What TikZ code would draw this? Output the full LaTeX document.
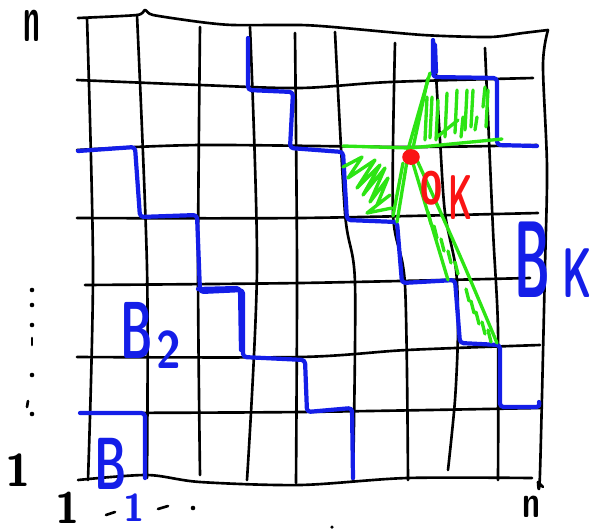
\documentclass[tikz,border=0pt]{standalone}
\usepackage{fontspec}
\usepackage{xcolor}
\definecolor{penblue}{RGB}{20,30,232}
\definecolor{pengreen}{RGB}{45,228,20}
\definecolor{penred}{RGB}{250,20,20}

\begin{document}
\begin{tikzpicture}[x=0.02cm,y=-0.02cm,
    gridline/.style={line width=1.5pt,line cap=round,line join=round},
    stair/.style={penblue,line width=2.4pt,line cap=round,line join=round,rounded corners=2pt},
    greenline/.style={pengreen,line width=1.9pt,line cap=round,line join=round},
    pen/.style={inner sep=0pt,font=\sffamily\bfseries}]
    \useasboundingbox (0,0) rectangle (592,529);

    % frame and grid
    \draw[gridline] plot[smooth,tension=0.4] coordinates {(78,18) (137,15) (145,10) (153,15) (200,22) (233,25) (300,25) (333,27) (423,35) (490,37) (523,33) (548,30)};
    \draw[gridline] plot[smooth] coordinates {(548,30) (543,65) (547,167) (545,267) (540,473) (538,482)} -- (543,487);
    \draw[gridline] plot[smooth] coordinates {(78,480) (147,475) (200,482) (300,485) (407,478) (532,478)};
    \draw[gridline] plot[smooth] coordinates {(87,18) (93,267) (88,480)};
    \draw[gridline] plot[smooth] coordinates {(137,15) (147,267) (147,478)};
    \draw[gridline] plot[smooth] coordinates {(200,27) (198,267) (200,475)};
    \draw[gridline] plot[smooth] coordinates {(250,27) (257,267) (247,480)};
    \draw[gridline] plot[smooth] coordinates {(295,33) (297,267) (296,483)};
    \draw[gridline] plot[smooth] coordinates {(335,32) (345,213) (355,283) (353,480)};
    \draw[gridline] plot[smooth] coordinates {(395,43) (393,213) (405,285) (408,480)};
    \draw[gridline] plot[smooth] coordinates {(434,42) (440,140) (445,213) (456,270) (458,330) (455,400) (448,470)};
    \draw[gridline] plot[smooth] coordinates {(485,48) (493,230) (498,330) (498,480)};
    \draw[gridline] plot[smooth] coordinates {(77,80) (200,85) (300,88) (390,82) (533,78)};
    \draw[gridline] plot[smooth] coordinates {(77,150) (200,145) (410,147) (537,145)};
    \draw[gridline] plot[smooth] coordinates {(77,218) (300,218) (538,213)};
    \draw[gridline] plot[smooth] coordinates {(85,285) (300,283) (530,278)};
    \draw[gridline] plot[smooth] coordinates {(77,357) (300,357) (407,350) (540,345)};
    \draw[gridline] plot[smooth] coordinates {(82,413) (300,412) (540,408)};

    % blue staircases
    \draw[stair] (80,413)--(145,413)--(145,478);
    \draw[stair] (78,151)--(135,147)--(140,217)--(197,215)--(200,292)--(243,290)--(243,357)--(305,360)--(307,412)--(352,408)--(353,478);
    \draw[stair] (198,289)--(240,288)--(241,350);
    \draw[stair] (248,38)--(248,90)--(293,92)--(290,148)--(343,152)--(347,220)--(397,222)--(402,283)--(455,280)--(460,343)--(500,345)--(500,407)--(540,407)--(539,402);
    \draw[stair] (433,40)--(433,77)--(497,78)--(497,145)--(537,146);
    \draw[stair] (435,45)--(436,72);

    % green wedges round the point
    \draw[greenline] (343,146)--(410,148)--(502,139);
    \draw[greenline] (407,153)--(430,73);
    \draw[greenline] (413,148)--(428,78);
    \draw[greenline] (408,155)--(397,222);
    \draw[greenline] (403,163)--(393,216);
    \draw[greenline] (412,160)--(448,280);
    \draw[greenline] (416,158) .. controls (460,255) .. (497,343);
    \foreach \x/\ya/\yb in {427/97/140,432/97/138,438/100/140,447/93/137,457/90/133,463/117/137,467/90/130,473/90/127,477/117/130,485/87/107,488/90/127}
        \draw[greenline] (\x,\ya)--(\x-2,\yb);
    \draw[greenline] (437,137)--(458,120);
    \draw[greenline] plot coordinates {(343,167) (362,157) (348,178) (375,160) (357,188) (380,165) (363,195) (385,168) (370,202) (388,178) (377,205) (390,195) (367,213) (392,208)};
    \foreach \x/\y in {428/218,434/232,441/245,448/257,455/268,466/295,471/307,476/318,482/328,488/336}
        \draw[greenline] (\x,\y-6)--(\x+3,\y+6);

    \fill[penred] (411,157) ellipse (5pt and 4.5pt);
    \node[pen,penred,font=\sffamily\bfseries\fontsize{40}{40}\selectfont,xscale=0.57] (labO) at (432,188) {o};
    \node[pen,penred,font=\sffamily\bfseries\fontsize{36}{36}\selectfont,xscale=0.5] (labOK) at (461,198) {K};

    % labels of the blocks
    \node[pen,penblue,font=\sffamily\bfseries\fontsize{46}{46}\selectfont,xscale=0.55] (labB2) at (137,330) {B};
    \node[pen,penblue,font=\sffamily\bfseries\fontsize{30}{30}\selectfont,xscale=0.85] (subB2) at (169,350) {2};
    \node[pen,penblue,font=\sffamily\bfseries\fontsize{42}{42}\selectfont,xscale=0.6] (labB1) at (111,464) {B};
    \node[pen,penblue,font=\sffamily\bfseries\fontsize{22}{22}\selectfont] (subB1) at (134,508) {1};
    \node[pen,penblue,font=\sffamily\bfseries\fontsize{62}{62}\selectfont,xscale=0.45] (labBK) at (532,260) {B};
    \node[pen,penblue,font=\sffamily\bfseries\fontsize{40}{40}\selectfont,xscale=0.55] (subBK) at (577,273) {K};

    % axis marks
    \node[pen,font=\sffamily\bfseries\fontsize{38}{38}\selectfont,xscale=0.45] (ntop) at (32,26) {n};
    \node[pen,font=\sffamily\bfseries\fontsize{26}{26}\selectfont,xscale=0.7] (nright) at (531,507) {n};
    \node[pen,font=\sffamily\bfseries\fontsize{26}{26}\selectfont] (oneleft) at (18,470) {1};
    \node[pen,font=\sffamily\bfseries\fontsize{25}{25}\selectfont] (onebottom) at (68,508) {1};
    \draw[gridline] (106,515)--(115,512);
    \draw[gridline] (158,509)--(168,506);
    \fill (193,508) circle (1.3pt);
    \fill (332,527) circle (1pt);
    \foreach \y in {290,305,325,375,414}
        \fill (32,\y) circle (1.3pt);
    \draw[gridline] (32,338)--(32,345);
    \draw[gridline] (28,401)--(27,407);
\end{tikzpicture}
\end{document}
